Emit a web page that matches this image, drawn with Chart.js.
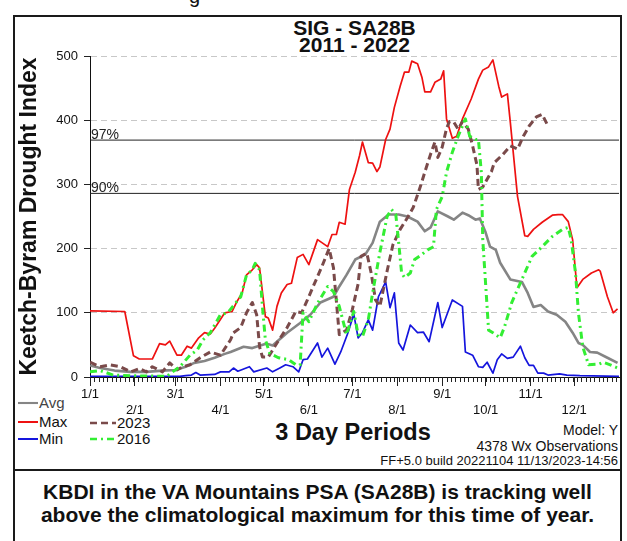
<!DOCTYPE html>
<html><head><meta charset="utf-8">
<script src="https://cdn.jsdelivr.net/npm/chart.js@4.4.0/dist/chart.umd.min.js"></script>
<style>
html,body{margin:0;padding:0;background:#fff;}
body{width:627px;height:541px;position:relative;overflow:hidden;font-family:"Liberation Sans",Arial,sans-serif;color:#111;}
.abs{position:absolute;white-space:nowrap;}
#frag{left:189px;top:-14px;font-size:20px;line-height:20px;}
#frame{left:13px;top:15px;width:609px;height:456px;border:2px solid #1a1a1a;box-sizing:border-box;}
#note{left:13px;top:469px;width:609px;height:90px;border:2px solid #1a1a1a;box-sizing:border-box;}
#title{left:90px;width:529px;top:19px;text-align:center;font-weight:bold;font-size:21px;line-height:17px;}
#xtitle{left:253px;width:200px;top:419px;text-align:center;font-weight:bold;font-size:23.5px;line-height:26px;}
.info{right:9px;text-align:right;font-size:14px;line-height:16px;}
#notetext{left:13px;width:609px;top:480px;text-align:center;font-weight:bold;font-size:21px;line-height:23px;}
canvas{position:absolute;left:0;top:0;}
</style></head>
<body>
<div class="abs" id="frag">g</div>
<div class="abs" id="frame"></div>
<div class="abs" id="note"></div>
<div class="abs" id="title">SIG - SA28B<br>2011 - 2022</div>
<div class="abs" id="xtitle">3 Day Periods</div>
<div class="abs info" style="top:422px">Model: Y</div>
<div class="abs info" style="top:438px">4378 Wx Observations</div>
<div class="abs info" style="top:453px;font-size:13px">FF+5.0 build 20221104 11/13/2023-14:56</div>
<div class="abs" id="notetext">KBDI in the VA Mountains PSA (SA28B) is tracking well<br>above the climatological maximum for this time of year.</div>
<svg class="abs" id="leg" style="left:0;top:0" width="627" height="541"></svg>
<canvas id="c" width="627" height="541"></canvas>
<script>
const FONT = '"Liberation Sans", Arial, sans-serif';
const YEAR_DAYS = 365;
const PERIOD_DAYS = 3;

const monthDays = [0,31,59,90,120,151,181,212,243,273,304,334];
const monthLabels = ['1/1','2/1','3/1','4/1','5/1','6/1','7/1','8/1','9/1','10/1','11/1','12/1'];
const yTicks = [0,100,200,300,400,500];
const pctValues = [369,286];
const pctLabels = ['97%','90%'];

const avgDay = [0,7,17,28,39,50,59,66,72,79,86,93,97,106,112,122,126,136,145,152,159,168,172,177,183,190,195,200,206,213,219,226,231,235,240,247,251,257,261,266,269,273,276,280,283,290,294,298,302,306,311,316,322,328,333,337,340,345,350,357,364];
const avgVal = [18,14,10,8,8,10,11,16,22,25,30,36,39,47,45,52,49,69,84,97,116,125,141,159,183,191,209,242,253,253,250,242,227,233,258,250,245,256,252,245,247,225,203,198,178,152,150,148,131,109,112,102,97,86,69,53,50,39,38,30,22];

const maxDay = [0,24,30,34,43,48,52,55,60,63,67,70,75,79,83,86,93,98,101,105,108,112,115,117,121,123,126,129,132,136,139,143,147,151,157,164,167,170,172,176,179,183,186,188,192,195,198,200,204,207,210,214,217,220,222,226,229,231,235,238,242,244,246,250,253,257,263,268,271,275,278,282,284,288,290,295,300,302,306,312,319,323,326,330,333,336,340,346,351,352,357,361,364];
const maxVal = [103,102,33,28,28,52,50,56,34,34,48,45,61,69,67,76,100,102,116,131,159,167,175,170,94,92,73,110,131,144,146,186,191,175,214,203,222,222,241,238,292,319,345,366,334,333,320,327,370,386,420,453,475,475,492,488,467,444,444,459,464,477,402,372,375,402,433,464,478,483,494,453,436,441,397,281,220,219,230,241,252,253,253,242,214,139,152,162,167,165,125,100,106];

const minDay = [0,62,66,70,73,76,86,90,96,99,102,110,113,122,126,131,135,140,144,147,150,157,160,164,169,173,178,182,185,188,192,195,199,204,207,210,213,216,221,226,230,234,240,243,250,257,259,264,268,271,274,278,281,284,288,292,297,300,303,306,309,313,316,324,329,338,365];
const minVal = [1,1,2,3,7,3,4,8,8,14,9,16,8,14,8,14,19,16,8,27,28,53,31,45,20,39,69,98,61,69,89,73,125,148,108,131,53,42,81,69,70,55,116,77,120,110,39,34,16,15,23,6,27,36,29,31,48,30,18,18,6,6,3,5,3,2,1];

const y2023Day = [0,7,14,21,28,34,39,43,50,55,60,64,69,76,83,90,97,99,104,108,112,115,117,119,123,129,136,142,146,150,154,160,165,168,172,177,181,185,187,191,194,197,200,205,209,214,219,223,228,231,235,238,240,243,246,248,251,254,257,261,264,267,268,271,274,277,279,285,290,295,299,303,308,312,316];
const y2023Val = [23,16,19,16,8,13,8,16,8,22,11,16,19,30,39,34,58,69,77,100,116,97,47,31,31,53,77,102,100,120,141,172,200,170,66,73,105,145,188,193,162,120,110,165,206,230,248,264,297,319,347,366,342,358,387,398,397,386,398,386,360,330,292,296,308,320,334,347,360,355,375,391,405,409,391];

const y2016Day = [0,7,16,28,53,57,62,69,74,78,83,90,95,104,108,112,114,117,119,121,124,130,137,142,145,147,151,157,164,168,172,177,182,185,188,192,195,200,205,208,211,213,215,217,221,224,229,233,237,239,243,246,250,254,259,262,266,268,270,271,274,275,278,283,286,291,298,305,312,319,326,330,332,335,337,340,344,351,354,359,364];
const y2016Val = [8,10,3,2,1,8,16,34,42,58,69,97,100,125,159,167,177,167,109,58,37,30,27,19,19,100,86,115,141,133,110,66,102,66,63,89,131,194,250,261,253,209,162,155,162,183,191,198,203,261,281,319,350,375,402,375,370,370,319,214,109,73,69,61,78,116,152,188,203,219,230,233,214,162,100,47,19,20,23,19,14];

const STY = {
  avg:{label:'Avg', color:'#858585', width:2.6, dash:[]},
  max:{label:'Max', color:'#ee1111', width:1.7, dash:[]},
  min:{label:'Min', color:'#1515dd', width:1.7, dash:[]},
  y2023:{label:'2023', color:'#7a4a4a', width:3, dash:[7,4]},
  y2016:{label:'2016', color:'#33ee33', width:3, dash:[7,4,2,4]}
};

function pts(d, v){ return d.map((x,i)=>({x:x, y:v[i]})); }
function ds(key, d, v, order){
  const s = STY[key];
  return {label:s.label, data:pts(d,v), borderColor:s.color, borderWidth:s.width, borderDash:s.dash,
    pointRadius:0, tension:0, fill:false, order:order, borderCapStyle:'butt', borderJoinStyle:'round'};
}

const datasets = [
  ds('y2016', y2016Day, y2016Val, 1),
  ds('y2023', y2023Day, y2023Val, 2),
  ds('min', minDay, minVal, 3),
  ds('max', maxDay, maxVal, 4),
  ds('avg', avgDay, avgVal, 5)
];
pctValues.forEach((v,i)=>{
  datasets.push({label:pctLabels[i], data:pts([0,YEAR_DAYS],[v,v]), borderColor:'#222', borderWidth:1,
    pointRadius:0, tension:0, fill:false, order:6});
});

const extrasPlugin = {
  id:'extras',
  afterDraw(chart){
    const ctx = chart.ctx, xs = chart.scales.x, ys = chart.scales.y, ca = chart.chartArea;
    ctx.save();
    ctx.strokeStyle = '#222'; ctx.lineWidth = 1;
    ctx.beginPath();
    for (let d = 0; d <= YEAR_DAYS; d += PERIOD_DAYS){
      const px = Math.round(xs.getPixelForValue(d)) + 0.5;
      ctx.moveTo(px, ca.bottom); ctx.lineTo(px, ca.bottom + 5);
    }
    ctx.stroke();
    ctx.fillStyle = '#222';
    ctx.font = '14px ' + FONT;
    ctx.textBaseline = 'alphabetic';
    ctx.textAlign = 'left';
    pctValues.forEach((v,i)=>{
      ctx.fillText(pctLabels[i], xs.getPixelForValue(0) + 1, ys.getPixelForValue(v) - 1);
    });
    ctx.restore();
  }
};

new Chart(document.getElementById('c').getContext('2d'), {
  type:'line',
  data:{datasets:datasets},
  options:{
    responsive:false, animation:false, events:[],
    layout:{padding:{left:13, right:8, top:56, bottom:114}},
    plugins:{legend:{display:false}, tooltip:{enabled:false}},
    scales:{
      x:{type:'linear', min:0, max:YEAR_DAYS,
        afterBuildTicks(s){ s.ticks = monthDays.map(v=>({value:v})); },
        afterFit(s){ s.height = 50; },
        ticks:{autoSkip:false, maxRotation:0, minRotation:0, padding:1, color:'#111',
          font:{family:FONT, size:13},
          callback(v){ const i = monthDays.indexOf(v); if (i < 0) return ''; return i % 2 === 0 ? monthLabels[i] : ['', monthLabels[i]]; }},
        grid:{drawOnChartArea:false, drawTicks:true, tickLength:9, color:'#222', tickColor:'#222'},
        border:{color:'#111', width:1}
      },
      y:{min:0, max:500,
        afterBuildTicks(s){ s.ticks = yTicks.map(v=>({value:v})); },
        afterFit(s){ s.width = 77; },
        ticks:{padding:6, color:'#111', font:{family:FONT, size:13}},
        grid:{color:'#c8c8c8', tickColor:'#222', tickLength:6, tickBorderDash:[]},
        border:{color:'#111', width:1, dash:[6,4]},
        title:{display:true, text:'Keetch-Byram Drought Index', color:'#111',
          font:{family:FONT, size:23, weight:'bold'}, padding:{top:3, bottom:0}}
      }
    }
  },
  plugins:[extrasPlugin]
});

// legend
const NS = 'http://www.w3.org/2000/svg';
const leg = document.getElementById('leg');
const legendItems = [
  {key:'avg', x:18, y:403, len:20},
  {key:'max', x:18, y:422, len:20},
  {key:'min', x:18, y:439, len:20},
  {key:'y2023', x:90, y:423, len:26},
  {key:'y2016', x:90, y:439, len:26}
];
legendItems.forEach(it=>{
  const s = STY[it.key];
  const ln = document.createElementNS(NS,'line');
  ln.setAttribute('x1', it.x); ln.setAttribute('x2', it.x + it.len);
  ln.setAttribute('y1', it.y); ln.setAttribute('y2', it.y);
  ln.setAttribute('stroke', s.color); ln.setAttribute('stroke-width', Math.max(2, s.width - 0.5));
  if (s.dash.length) ln.setAttribute('stroke-dasharray', s.dash.join(','));
  leg.appendChild(ln);
  const t = document.createElementNS(NS,'text');
  t.setAttribute('x', it.x + it.len + 1); t.setAttribute('y', it.y + 5);
  t.setAttribute('font-family', FONT); t.setAttribute('font-size', '15');
  t.setAttribute('fill', it.key === 'avg' ? '#444' : '#111');
  t.textContent = s.label;
  leg.appendChild(t);
});
</script>
</body></html>
